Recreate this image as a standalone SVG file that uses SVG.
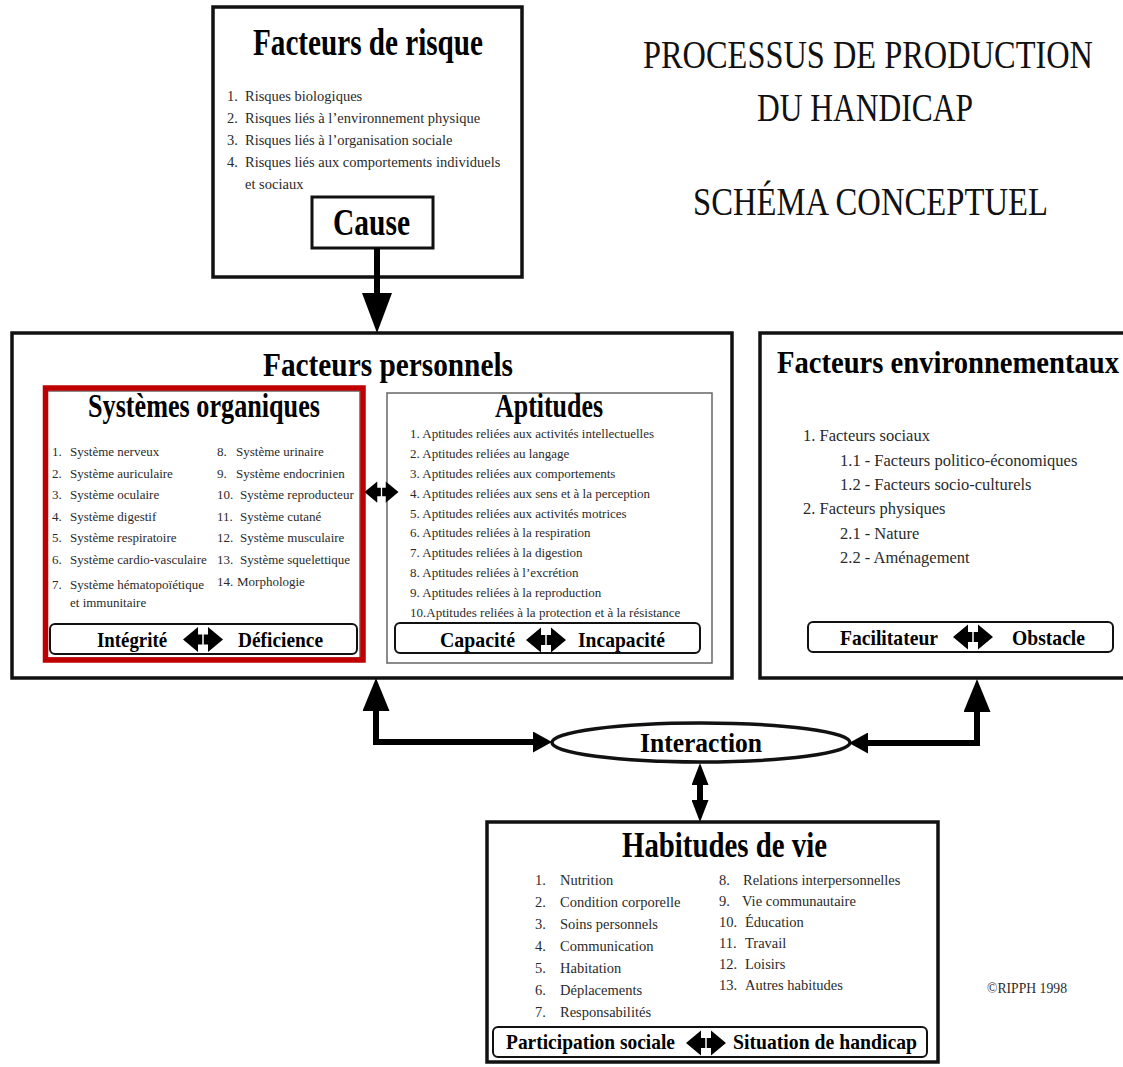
<svg xmlns="http://www.w3.org/2000/svg" xmlns:xlink="http://www.w3.org/1999/xlink" width="1123" height="1067" viewBox="0 0 1123 1067">
<style>
text { font-family: "Liberation Serif", "Times New Roman", serif; }
.h { font-weight: bold; fill: #000; }
.ttl { fill: #111; font-size: 33px; }
.li { fill: #2a2a2a; }
.s13 { font-size: 13px; }
.s14 { font-size: 14.5px; }
.s16 { font-size: 16.5px; }
.box { fill: #fff; stroke: #111; stroke-width: 3.5; }
.inner { fill: #fff; stroke: #666; stroke-width: 1.5; }
.pill { fill: #fff; stroke: #111; stroke-width: 2; }
.conn { fill: none; stroke: #000; stroke-width: 6; }
.pl { font-weight: bold; font-size: 22px; fill: #000; }
</style>
<defs>
<marker id="mBig" markerUnits="userSpaceOnUse" markerWidth="40" markerHeight="30" viewBox="0 0 40 30" refX="0" refY="15" orient="auto"><path d="M0,0 L40,15 L0,30 Z" fill="#000"/></marker>
<marker id="mUp" markerUnits="userSpaceOnUse" markerWidth="33" markerHeight="27" viewBox="0 0 33 27" refX="0" refY="13.5" orient="auto"><path d="M0,0 L33,13.5 L0,27 Z" fill="#000"/></marker>
<marker id="mSide" markerUnits="userSpaceOnUse" markerWidth="19" markerHeight="21" viewBox="0 0 19 21" refX="0" refY="10.5" orient="auto-start-reverse"><path d="M0,0 L19,10.5 L0,21 Z" fill="#000"/></marker>
<marker id="mSmall" markerUnits="userSpaceOnUse" markerWidth="22" markerHeight="17" viewBox="0 0 22 17" refX="0" refY="8.5" orient="auto-start-reverse"><path d="M0,0 L22,8.5 L0,17 Z" fill="#000"/></marker>
<g id="dbl">
<path d="M-20,0 L-5,-12.5 L-5,-5 L5,-5 L5,-12.5 L20,0 L5,12.5 L5,5 L-5,5 L-5,12.5 Z" fill="#000"/>
<path d="M0,-8 V8" stroke="#fff" stroke-width="1.5"/>
</g>
</defs>
<rect width="1123" height="1067" fill="#fff"/>

<g id="title">
<text class="ttl" transform="translate(643,68) scale(1,1.2)" x="0" y="0" textLength="450" lengthAdjust="spacingAndGlyphs">PROCESSUS DE PRODUCTION</text>
<text class="ttl" transform="translate(757,121) scale(1,1.2)" x="0" y="0" textLength="216" lengthAdjust="spacingAndGlyphs">DU HANDICAP</text>
<text class="ttl" transform="translate(693,215) scale(1,1.2)" x="0" y="0" textLength="355" lengthAdjust="spacingAndGlyphs">SCHÉMA CONCEPTUEL</text>
</g>

<g id="facteurs-risque">
<rect class="box" x="213" y="7" width="309" height="270"/>
<text class="h" x="253" y="55" font-size="38" textLength="230" lengthAdjust="spacingAndGlyphs">Facteurs de risque</text>
<g class="li s14">
<text x="227" y="101">1.</text><text x="245" y="101">Risques biologiques</text>
<text x="227" y="123">2.</text><text x="245" y="123">Risques liés à l’environnement physique</text>
<text x="227" y="145">3.</text><text x="245" y="145">Risques liés à l’organisation sociale</text>
<text x="227" y="167">4.</text><text x="245" y="167">Risques liés aux comportements individuels</text>
<text x="245" y="189">et sociaux</text>
</g>
</g>

<g id="cause">
<rect x="312" y="197" width="121" height="51" fill="#fff" stroke="#111" stroke-width="3"/>
<text class="h" x="333" y="235" font-size="37" textLength="77" lengthAdjust="spacingAndGlyphs">Cause</text>
</g>

<g id="facteurs-personnels">
<rect class="box" x="12" y="333" width="720" height="345"/>
<text class="h" x="263" y="376" font-size="33" textLength="250" lengthAdjust="spacingAndGlyphs">Facteurs personnels</text>
</g>

<g id="systemes-organiques">
<rect class="inner" x="47" y="391" width="313" height="267"/>
<text class="h" x="88" y="417" font-size="33" textLength="232" lengthAdjust="spacingAndGlyphs">Systèmes organiques</text>
<g class="li s13">
<text x="52" y="456">1.</text><text x="70" y="456">Système nerveux</text>
<text x="52" y="478">2.</text><text x="70" y="478">Système auriculaire</text>
<text x="52" y="499">3.</text><text x="70" y="499">Système oculaire</text>
<text x="52" y="521">4.</text><text x="70" y="521">Système digestif</text>
<text x="52" y="542">5.</text><text x="70" y="542">Système respiratoire</text>
<text x="52" y="564">6.</text><text x="70" y="564">Système cardio-vasculaire</text>
<text x="52" y="589">7.</text><text x="70" y="589">Système hématopoïétique</text>
<text x="70" y="607">et immunitaire</text>
<text x="217" y="456">8.</text><text x="236" y="456">Système urinaire</text>
<text x="217" y="478">9.</text><text x="236" y="478">Système endocrinien</text>
<text x="217" y="499">10.</text><text x="240" y="499">Système reproducteur</text>
<text x="217" y="521">11.</text><text x="240" y="521">Système cutané</text>
<text x="217" y="542">12.</text><text x="240" y="542">Système musculaire</text>
<text x="217" y="564">13.</text><text x="240" y="564">Système squelettique</text>
<text x="217" y="586">14.</text><text x="237" y="586">Morphologie</text>
</g>
<rect class="pill" x="50" y="624" width="307" height="30" rx="5"/>
<text class="pl" x="97" y="647" textLength="70" lengthAdjust="spacingAndGlyphs">Intégrité</text>
<use xlink:href="#dbl" href="#dbl" transform="translate(203,639.5)"/>
<text class="pl" x="238" y="647" textLength="85" lengthAdjust="spacingAndGlyphs">Déficience</text>
<rect x="45.5" y="388" width="317.5" height="272" fill="none" stroke="#c00000" stroke-width="5.5"/>
</g>

<g id="aptitudes">
<rect class="inner" x="387" y="393" width="325" height="270"/>
<text class="h" x="495" y="417" font-size="33" textLength="108" lengthAdjust="spacingAndGlyphs">Aptitudes</text>
<g class="li s13">
<text x="410" y="438">1. Aptitudes reliées aux activités intellectuelles</text>
<text x="410" y="457.5">2. Aptitudes reliées au langage</text>
<text x="410" y="477.5">3. Aptitudes reliées aux comportements</text>
<text x="410" y="497.5">4. Aptitudes reliées aux sens et à la perception</text>
<text x="410" y="517.5">5. Aptitudes reliées aux activités motrices</text>
<text x="410" y="537">6. Aptitudes reliées à la respiration</text>
<text x="410" y="557">7. Aptitudes reliées à la digestion</text>
<text x="410" y="577">8. Aptitudes reliées à l’excrétion</text>
<text x="410" y="597">9. Aptitudes reliées à la reproduction</text>
<text x="410" y="616.5">10.Aptitudes reliées à la protection et à la résistance</text>
</g>
<rect class="pill" x="395" y="623" width="305" height="30" rx="5"/>
<text class="pl" x="440" y="647" textLength="75" lengthAdjust="spacingAndGlyphs">Capacité</text>
<use xlink:href="#dbl" href="#dbl" transform="translate(546,640)"/>
<text class="pl" x="578" y="647" textLength="87" lengthAdjust="spacingAndGlyphs">Incapacité</text>
</g>

<g id="facteurs-environnementaux">
<rect class="box" x="760" y="333" width="400" height="345"/>
<text class="h" transform="translate(777,373) scale(1,1.15)" x="0" y="0" font-size="27" textLength="342" lengthAdjust="spacingAndGlyphs">Facteurs environnementaux</text>
<g class="li s16">
<text x="803" y="441">1.  Facteurs sociaux</text>
<text x="840" y="466">1.1  - Facteurs politico-économiques</text>
<text x="840" y="490">1.2  - Facteurs socio-culturels</text>
<text x="803" y="514">2. Facteurs physiques</text>
<text x="840" y="539">2.1  - Nature</text>
<text x="840" y="563">2.2  - Aménagement</text>
</g>
<rect class="pill" x="808" y="622" width="305" height="30" rx="5"/>
<text class="pl" x="840" y="645" textLength="98" lengthAdjust="spacingAndGlyphs">Facilitateur</text>
<use xlink:href="#dbl" href="#dbl" transform="translate(973,637)"/>
<text class="pl" x="1012" y="645" textLength="73" lengthAdjust="spacingAndGlyphs">Obstacle</text>
</g>

<g id="interaction">
<ellipse cx="701" cy="742.5" rx="149" ry="19.5" fill="#fff" stroke="#111" stroke-width="3.5"/>
<text class="h" x="640" y="752" font-size="28" textLength="122" lengthAdjust="spacingAndGlyphs">Interaction</text>
</g>

<g id="habitudes-de-vie">
<rect class="box" x="487" y="822" width="451" height="240"/>
<text class="h" x="622" y="857" font-size="36" textLength="205" lengthAdjust="spacingAndGlyphs">Habitudes de vie</text>
<g class="li s14">
<text x="535" y="885">1.</text><text x="560" y="885">Nutrition</text>
<text x="535" y="907">2.</text><text x="560" y="907">Condition corporelle</text>
<text x="535" y="929">3.</text><text x="560" y="929">Soins personnels</text>
<text x="535" y="951">4.</text><text x="560" y="951">Communication</text>
<text x="535" y="973">5.</text><text x="560" y="973">Habitation</text>
<text x="535" y="995">6.</text><text x="560" y="995">Déplacements</text>
<text x="535" y="1017">7.</text><text x="560" y="1017">Responsabilités</text>
<text x="719" y="885">8.</text><text x="743" y="885">Relations interpersonnelles</text>
<text x="719" y="906">9.</text><text x="742" y="906">Vie communautaire</text>
<text x="719" y="927">10.</text><text x="745" y="927">Éducation</text>
<text x="719" y="948">11.</text><text x="745" y="948">Travail</text>
<text x="719" y="969">12.</text><text x="745" y="969">Loisirs</text>
<text x="719" y="990">13.</text><text x="745" y="990">Autres habitudes</text>
</g>
<rect class="pill" x="493" y="1027" width="434" height="30" rx="5"/>
<text class="pl" x="506" y="1049" textLength="169" lengthAdjust="spacingAndGlyphs">Participation sociale</text>
<use xlink:href="#dbl" href="#dbl" transform="translate(706,1043)"/>
<text class="pl" x="733" y="1049" textLength="184" lengthAdjust="spacingAndGlyphs">Situation de handicap</text>
</g>

<g id="copyright">
<text class="li" x="987" y="993" font-size="15" textLength="80" lengthAdjust="spacingAndGlyphs">©RIPPH 1998</text>
</g>

<g id="connectors">
<path class="conn" d="M377,248 V293" stroke-width="7" marker-end="url(#mBig)"/>
<path class="conn" d="M533,742 H376 V711" marker-start="url(#mSide)" marker-end="url(#mUp)"/>
<path class="conn" d="M868,743 H977 V712" marker-start="url(#mSide)" marker-end="url(#mUp)"/>
<path class="conn" d="M700,785 V800" stroke-width="4" marker-start="url(#mSmall)" marker-end="url(#mSmall)"/>
<use xlink:href="#dbl" href="#dbl" transform="translate(381.5,492) scale(0.85)"/>
</g>
</svg>
